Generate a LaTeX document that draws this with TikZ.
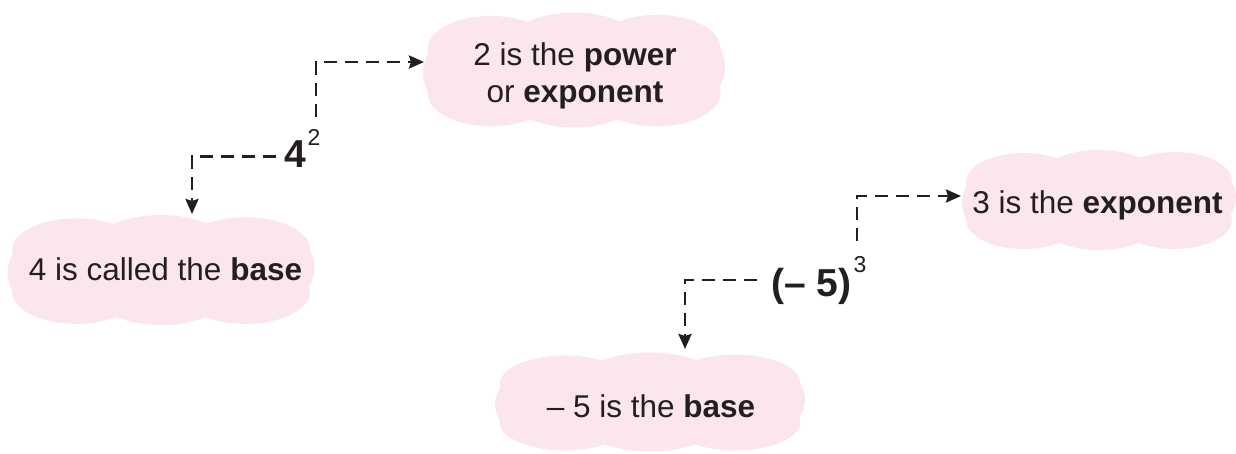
\documentclass[tikz,border=0pt]{standalone}
\usepackage{fontspec}
\setmainfont{Liberation Sans}
\usetikzlibrary{arrows.meta}
\definecolor{ink}{HTML}{231F20}
\definecolor{cloudpink}{HTML}{FBE6F0}

% soft pink cloud: centre (#1,#2), width #3, height #4
\newcommand\pinkcloud[4]{%
  \pgfmathsetmacro\ca{#3/2}\pgfmathsetmacro\cb{#4/2}%
  \fill[cloudpink] ({#1-0.86*\ca},{#2-0.55*\cb}) rectangle ({#1+0.86*\ca},{#2+0.55*\cb});
  \fill[cloudpink] ({#1-0.78*\ca},{#2+0.05*\cb}) ellipse [x radius={0.22*\ca}, y radius={0.62*\cb}];
  \fill[cloudpink] ({#1+0.78*\ca},{#2-0.05*\cb}) ellipse [x radius={0.22*\ca}, y radius={0.62*\cb}];
  \fill[cloudpink] ({#1-0.55*\ca},{#2-0.36*\cb}) ellipse [x radius={0.42*\ca}, y radius={0.58*\cb}];
  \fill[cloudpink] ({#1},{#2-0.42*\cb}) ellipse [x radius={0.44*\ca}, y radius={0.58*\cb}];
  \fill[cloudpink] ({#1+0.55*\ca},{#2-0.38*\cb}) ellipse [x radius={0.42*\ca}, y radius={0.58*\cb}];
  \fill[cloudpink] ({#1-0.55*\ca},{#2+0.40*\cb}) ellipse [x radius={0.42*\ca}, y radius={0.58*\cb}];
  \fill[cloudpink] ({#1},{#2+0.42*\cb}) ellipse [x radius={0.44*\ca}, y radius={0.58*\cb}];
  \fill[cloudpink] ({#1+0.55*\ca},{#2+0.40*\cb}) ellipse [x radius={0.42*\ca}, y radius={0.58*\cb}];
}

\tikzset{
  label/.style={inner sep=0pt, text=ink, font=\fontsize{31.5}{37}\selectfont, anchor=base},
  expr/.style={inner sep=0pt, text=ink, font=\fontsize{39}{40}\selectfont\bfseries, anchor=base},
  expo/.style={inner sep=0pt, text=ink, font=\fontsize{23}{24}\selectfont, anchor=base},
  conn/.style={draw=ink, line width=2.6pt, dash pattern=on 13pt off 8pt,
    -{Stealth[length=15pt, width=13pt, inset=2pt]}},
}

\begin{document}
\begin{tikzpicture}[x=1pt, y=-1pt]
  \useasboundingbox (0,0) rectangle (1236,453);

  % clouds
  \pinkcloud{574}{70}{302}{115}
  \pinkcloud{161}{270}{307}{110}
  \pinkcloud{1099}{200}{274}{100}
  \pinkcloud{650}{402}{310}{99}

  % cloud texts
  \node[label, align=center, anchor=center] (pw) at (575,76)
    {2 is the \textbf{power}\\or \textbf{exponent}};
  \node[label] (bs) at (165.5,280) {4 is called the \textbf{base}};
  \node[label] (ex) at (1097.5,213) {3 is the \textbf{exponent}};
  \node[label] (nb) at (651,417) {\textendash\ 5 is the \textbf{base}};

  % powers
  \node[expr] (b1) at (295.5,167) {4};
  \node[expo] (e1) at (314,145) {2};
  \node[expr] (b2) at (811.5,296) {(\textendash\ 5)};
  \node[expo] (e2) at (860,272) {3};

  % arrow ends
  \coordinate (t1) at (424,62);
  \coordinate (t2) at (192,214);
  \coordinate (t3) at (961,196);
  \coordinate (t4) at (685,349);

  % connectors
  \draw[conn, shorten <=8pt] ([yshift=-3pt]b1.west) -| (t2);
  \draw[conn, shorten <=12pt] ([xshift=2pt]e1.north) |- (t1);
  \draw[conn, shorten <=14pt] ([yshift=6pt]b2.west) -| (t4);
  \draw[conn, shorten <=15pt] ([xshift=-3pt]e2.north) |- (t3);
\end{tikzpicture}
\end{document}
